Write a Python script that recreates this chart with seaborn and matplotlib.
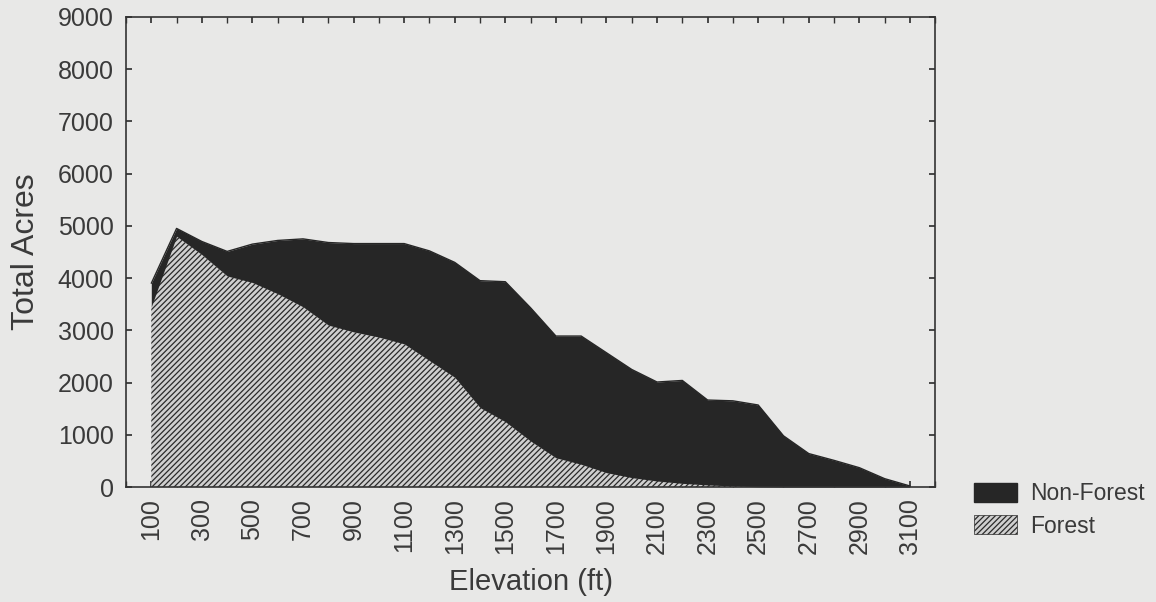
import numpy as np
import pandas as pd
import seaborn as sns
import matplotlib.pyplot as plt
from matplotlib.patches import Patch
from matplotlib.ticker import MultipleLocator

elevation = list(range(100, 3200, 100))
total_acres = [3900, 4950, 4700, 4510, 4650, 4720, 4750, 4680, 4660, 4660,
               4660, 4520, 4300, 3950, 3930, 3430, 2890, 2890, 2570, 2250,
               2010, 2040, 1665, 1650, 1570, 980, 640, 510, 370, 160, 20]
forest_acres = [3450, 4800, 4450, 4040, 3915, 3700, 3450, 3100, 2970, 2870,
                2740, 2420, 2100, 1520, 1250, 880, 560, 435, 275, 180,
                115, 70, 40, 20, 5, 0, 0, 0, 0, 0, 0]
nonforest_acres = [t - f for t, f in zip(total_acres, forest_acres)]

df = pd.DataFrame({"elevation": elevation,
                   "Forest": forest_acres,
                   "Non-Forest": nonforest_acres})

sns.set_theme(style="ticks")
plt.rcParams['font.family'] = ['Liberation Sans', 'DejaVu Sans']
plt.rcParams['hatch.color'] = '#2a2a2a'
plt.rcParams['hatch.linewidth'] = 0.9

bg = '#e8e8e7'
txt = '#3a3a3a'
fig = plt.figure(figsize=(11.56, 6.02), dpi=100, facecolor=bg)
ax = fig.add_axes([0.109, 0.191, 0.700, 0.781])
ax.set_facecolor(bg)

polys = ax.stackplot(df["elevation"], df["Forest"], df["Non-Forest"],
                     colors=['#cfcfcf', '#262626'], linewidth=0)
polys[0].set_hatch('//////')
polys[0].set_edgecolor('#2a2a2a')
sns.lineplot(x=df["elevation"], y=df["Forest"] + df["Non-Forest"],
             ax=ax, color='#262626', linewidth=1)

ax.set_xlim(0, 3200)
ax.set_ylim(0, 9000)
ax.set_xticks(range(100, 3200, 200))
ax.set_xticklabels([str(v) for v in range(100, 3200, 200)], rotation=90)
ax.xaxis.set_minor_locator(MultipleLocator(100))
ax.set_yticks(range(0, 9001, 1000))
ax.tick_params(axis='both', which='both', direction='in', top=True, right=True,
               colors='#333333', labelcolor=txt, labelsize=18, length=4)
ax.tick_params(axis='x', which='major', pad=8)
ax.tick_params(axis='y', which='major', pad=9)
for s in ax.spines.values():
    s.set_color('#333333')
    s.set_linewidth(1.2)

ax.set_xlabel("Elevation (ft)", fontsize=21, color=txt, labelpad=10)
ax.set_ylabel("Total Acres", fontsize=23, color=txt, labelpad=12)

handles = [Patch(facecolor='#262626', edgecolor='#262626', label='Non-Forest'),
           Patch(facecolor='#cfcfcf', edgecolor='#2a2a2a', hatch='//////',
                 linewidth=0.5, label='Forest')]
fig.legend(handles=handles, loc='upper left', bbox_to_anchor=(0.825, 0.233),
           frameon=False, fontsize=16.5, handlelength=1.85, handleheight=0.85,
           labelcolor=txt, handletextpad=0.6, labelspacing=0.4)

fig.savefig("out.png", dpi=100, facecolor=bg)
